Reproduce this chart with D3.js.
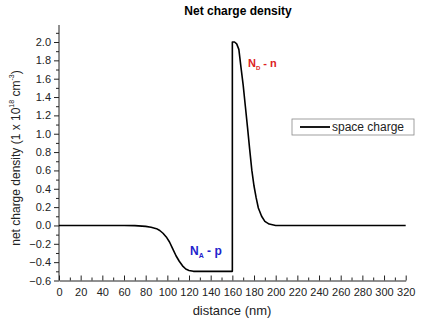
<!DOCTYPE html>
<html>
<head>
<meta charset="utf-8">
<script src="https://cdn.jsdelivr.net/npm/d3@7"></script>
<style>
    body { margin: 0; background: #fff; }
    svg { font-family: Arial, "Liberation Sans", sans-serif; }
</style>
</head>
<body>
<div id="chart_parent"></div>
<script>
// net charge across the junction, in units of 1e18 cm^-3
const distance = [0, 60, 70, 80, 85, 90, 93, 96, 99, 102, 105, 108, 111, 114, 117, 120, 124, 160,
    160, 162, 164, 166, 168, 170, 172, 174, 176, 178, 180, 182, 184, 187, 190, 194, 200, 320];
const spaceCharge = [0, 0, -0.002, -0.01, -0.02, -0.035, -0.055, -0.085, -0.125, -0.18, -0.255, -0.33, -0.39, -0.44, -0.475, -0.49, -0.5, -0.5,
    2.0, 2.0, 1.98, 1.92, 1.72, 1.53, 1.3, 1.07, 0.83, 0.6, 0.43, 0.3, 0.19, 0.1, 0.045, 0.015, 0, 0];

const xTicks = d3.range(0, 321, 20);
const yTicks = [-0.6, -0.4, -0.2, 0.0, 0.2, 0.4, 0.6, 0.8, 1.0, 1.2, 1.4, 1.6, 1.8, 2.0];

const chartConfig = {
    outerWidth: 424,
    outerHeight: 326,
    left: 59,
    right: 405.7,
    top: 25,
    bottom: 280.5,
};

const svg = d3.select('#chart_parent').append('svg')
    .attr('width', chartConfig.outerWidth)
    .attr('height', chartConfig.outerHeight);

const xScale = d3.scaleLinear()
    .domain([0, 320])
    .range([chartConfig.left, chartConfig.right]);

const yScale = d3.scaleLinear()
    .domain([-0.6, 2.0])
    .range([chartConfig.bottom, 42]);

// stretch the y axis a little above 2.0
const yTop = yScale.invert(chartConfig.top);

// minor ticks first, then major ticks with labels
const xMinor = svg.append('g')
    .attr('transform', `translate(0,${chartConfig.bottom})`)
    .call(d3.axisTop(xScale).tickValues(d3.range(10, 320, 20)).tickSize(3).tickFormat(''));
xMinor.select('.domain').remove();

const xAxisGroup = svg.append('g')
    .attr('transform', `translate(0,${chartConfig.bottom})`)
    .call(d3.axisBottom(xScale).tickValues(xTicks).tickSizeInner(0).tickSizeOuter(0).tickPadding(8));

xAxisGroup.selectAll('.tick').append('line')
    .attr('y2', -5)
    .attr('stroke', '#000');

const yMinor = svg.append('g')
    .attr('transform', `translate(${chartConfig.left},0)`)
    .call(d3.axisLeft(yScale).tickValues(d3.range(-0.5, yTop, 0.2)).tickSize(3).tickFormat(''));
yMinor.select('.domain').remove();

const yAxisGroup = svg.append('g')
    .attr('transform', `translate(${chartConfig.left},0)`)
    .call(d3.axisLeft(yScale).tickValues(yTicks).tickSizeInner(5).tickSizeOuter(0).tickPadding(3)
        .tickFormat(d3.format('.1f')));

yAxisGroup.select('.domain')
    .attr('d', `M0,${chartConfig.bottom}V${chartConfig.top}`);

svg.selectAll('.tick text')
    .attr('font-size', 11)
    .attr('font-family', 'Arial, "Liberation Sans", sans-serif')
    .attr('fill', '#222');
svg.selectAll('.domain, .tick line').attr('stroke', '#222');

const line = d3.line()
    .x((d, i) => xScale(distance[i]))
    .y(d => yScale(d));

svg.append('path')
    .datum(spaceCharge)
    .attr('d', line)
    .attr('fill', 'none')
    .attr('stroke', '#000')
    .attr('stroke-width', 1.6)
    .attr('stroke-linejoin', 'round');

// title and axis labels
svg.append('text')
    .attr('x', 238)
    .attr('y', 15)
    .attr('text-anchor', 'middle')
    .attr('font-size', 12)
    .attr('font-weight', 'bold')
    .text('Net charge density');

svg.append('text')
    .attr('x', 232)
    .attr('y', 315)
    .attr('text-anchor', 'middle')
    .attr('font-size', 13)
    .attr('fill', '#222')
    .text('distance (nm)');

const yLabel = svg.append('text')
    .attr('transform', 'translate(20,158) rotate(-90)')
    .attr('text-anchor', 'middle')
    .attr('font-size', 12)
    .attr('fill', '#222');
yLabel.append('tspan').text('net charge density (1 x 10');
yLabel.append('tspan').attr('font-size', 7).attr('dy', -6).text('18');
yLabel.append('tspan').attr('dy', 6).text(' cm');
yLabel.append('tspan').attr('font-size', 7).attr('dy', -6).text('-3');
yLabel.append('tspan').attr('dy', 6).text(')');

// region annotations
const na = svg.append('text')
    .attr('x', 190)
    .attr('y', 255)
    .attr('font-size', 12)
    .attr('font-weight', 'bold')
    .attr('fill', '#2222cc');
na.append('tspan').text('N');
na.append('tspan').attr('font-size', 7).attr('dy', 3).text('A');
na.append('tspan').attr('dy', -3).text(' - p');

const nd = svg.append('text')
    .attr('x', 248)
    .attr('y', 67)
    .attr('font-size', 11)
    .attr('font-weight', 'bold')
    .attr('fill', '#dd2222');
nd.append('tspan').text('N');
nd.append('tspan').attr('font-size', 6).attr('dy', 3).text('D');
nd.append('tspan').attr('dy', -3).text(' - n');

// legend
const legend = svg.append('g');
legend.append('rect')
    .attr('x', 292)
    .attr('y', 119)
    .attr('width', 122)
    .attr('height', 16)
    .attr('fill', '#fff')
    .attr('stroke', '#888')
    .attr('stroke-width', 0.8);
legend.append('line')
    .attr('x1', 300).attr('x2', 330)
    .attr('y1', 127).attr('y2', 127)
    .attr('stroke', '#000')
    .attr('stroke-width', 1.8);
legend.append('text')
    .attr('x', 332)
    .attr('y', 131)
    .attr('font-size', 12)
    .attr('fill', '#222')
    .text('space charge');
</script>
</body>
</html>
